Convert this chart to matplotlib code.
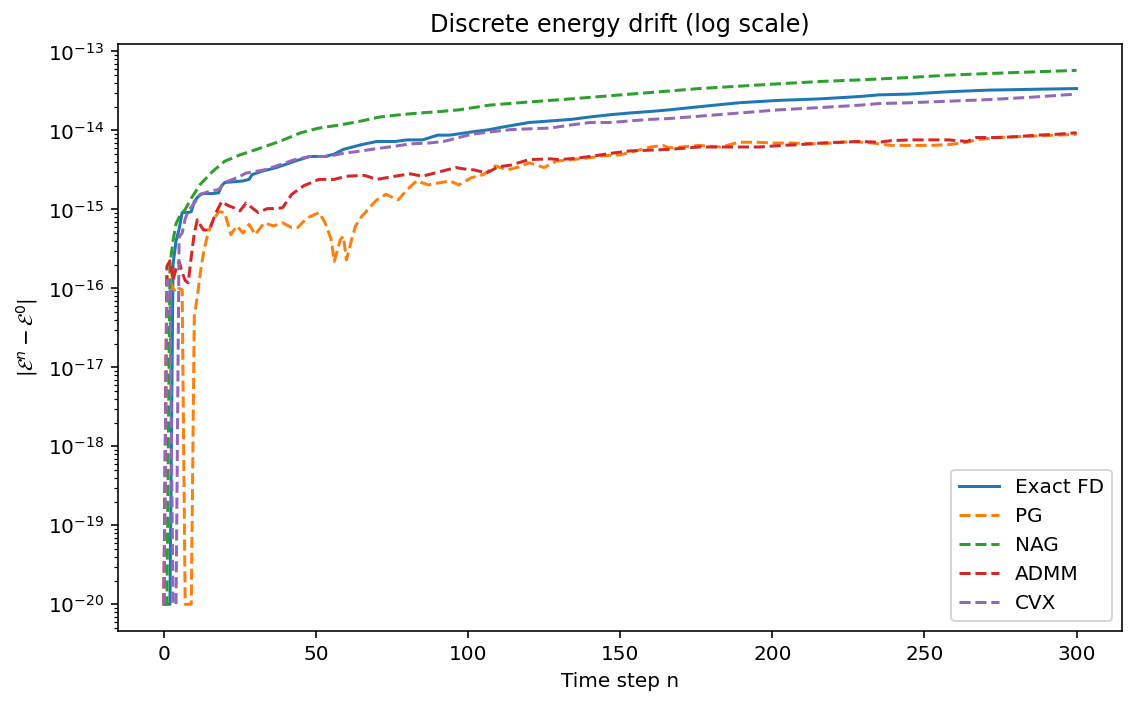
import numpy as np
import matplotlib
matplotlib.use('Agg')
from matplotlib import pyplot as plt

# values, stored as log10|E^n - E^0| (1e-20 = floor for zero drift)
fd_n = [0, 1, 2, 3, 4, 5, 6, 7, 8, 9, 10, 11, 12, 13, 16, 18, 19, 20, 23, 26, 28, 29, 32, 37, 43, 48,
        53, 56, 59, 65, 70, 76, 80, 85, 90, 94, 101, 107, 111, 120, 127, 134, 140, 147, 153, 160, 166,
        176, 189, 202, 216, 229, 235, 245, 258, 271, 285, 300]
fd_log = [-20, -20, -20, -15.7, -15.4, -15.25, -15.04, -15.04, -15.04, -15.03, -14.9, -14.85, -14.81,
          -14.80, -14.80, -14.79, -14.7, -14.66, -14.65, -14.64, -14.62, -14.56, -14.52, -14.47, -14.39,
          -14.33, -14.33, -14.30, -14.24, -14.18, -14.14, -14.14, -14.12, -14.12, -14.06, -14.06, -14.02,
          -13.99, -13.96, -13.90, -13.88, -13.86, -13.83, -13.80, -13.78, -13.76, -13.74, -13.70, -13.65,
          -13.62, -13.60, -13.57, -13.55, -13.54, -13.51, -13.49, -13.48, -13.47]

pg_n = [0, 1, 2, 3, 4, 5, 6, 7, 8, 9, 10, 11, 12, 13, 14, 15, 16, 18, 20, 22, 24, 26, 28, 30, 33, 36,
        39, 42, 44, 47, 51, 53, 55, 56, 58, 59, 60, 62, 63, 65, 68, 70, 73, 77, 80, 83, 87, 91, 94, 97,
        101, 105, 109, 113, 117, 120, 125, 129, 134, 139, 145, 150, 155, 160, 164, 166, 170, 176, 183,
        189, 195, 200, 207, 213, 220, 226, 233, 239, 245, 252, 258, 264, 267, 274, 280, 287, 293, 300]
pg_log = [-20, -15.85, -15.9, -16.0, -16.05, -16.0, -16.02, -20, -20, -20, -16.35, -16.1, -15.8, -15.55,
          -15.38, -15.25, -15.15, -15.03, -15.04, -15.32, -15.21, -15.30, -15.19, -15.32, -15.17, -15.21,
          -15.17, -15.23, -15.23, -15.11, -15.04, -15.17, -15.38, -15.66, -15.38, -15.34, -15.64, -15.34,
          -15.21, -15.09, -14.96, -14.88, -14.81, -14.88, -14.75, -14.64, -14.69, -14.66, -14.64, -14.69,
          -14.60, -14.56, -14.45, -14.50, -14.46, -14.41, -14.47, -14.39, -14.37, -14.35, -14.32, -14.31,
          -14.26, -14.21, -14.19, -14.22, -14.21, -14.19, -14.21, -14.15, -14.15, -14.16, -14.16, -14.17,
          -14.16, -14.14, -14.16, -14.19, -14.19, -14.19, -14.18, -14.15, -14.12, -14.09, -14.08, -14.07,
          -14.06, -14.05]

nag_n = [0, 1, 2, 3, 4, 5, 6, 7, 8, 9, 10, 12, 14, 16, 20, 25, 29, 32, 38, 45, 51, 58, 65, 71, 78, 84,
         91, 97, 107, 120, 134, 147, 160, 176, 189, 202, 216, 229, 245, 258, 271, 285, 300]
nag_log = [-20, -20, -15.7, -15.4, -15.18, -15.1, -15.05, -15.0, -14.93, -14.86, -14.8, -14.68, -14.6,
           -14.52, -14.39, -14.31, -14.26, -14.22, -14.14, -14.03, -13.97, -13.93, -13.88, -13.83, -13.80,
           -13.78, -13.76, -13.74, -13.68, -13.64, -13.60, -13.56, -13.52, -13.47, -13.44, -13.41, -13.38,
           -13.36, -13.33, -13.30, -13.28, -13.26, -13.24]

admm_n = [0, 1, 2, 3, 4, 5, 6, 7, 8, 9, 10, 11, 12, 13, 15, 17, 19, 21, 23, 25, 27, 29, 31, 34, 36, 39,
          42, 46, 51, 56, 60, 66, 70, 76, 81, 85, 91, 96, 99, 102, 106, 110, 114, 120, 127, 130, 136,
          140, 147, 153, 160, 166, 176, 183, 196, 203, 209, 216, 222, 229, 235, 239, 245, 252, 258, 264,
          267, 274, 280, 287, 293, 300]
admm_log = [-20, -15.72, -15.65, -15.9, -15.75, -15.66, -15.8, -15.9, -15.93, -15.6, -15.3, -15.13, -15.2,
            -15.26, -15.26, -15.05, -14.9, -14.95, -14.98, -15.02, -14.92, -14.98, -15.04, -14.99, -14.99,
            -14.98, -14.81, -14.70, -14.62, -14.62, -14.58, -14.57, -14.62, -14.58, -14.55, -14.58, -14.52,
            -14.47, -14.49, -14.50, -14.54, -14.46, -14.44, -14.37, -14.36, -14.37, -14.35, -14.33, -14.29,
            -14.26, -14.25, -14.24, -14.21, -14.21, -14.21, -14.19, -14.18, -14.16, -14.15, -14.14, -14.15,
            -14.13, -14.12, -14.12, -14.12, -14.14, -14.09, -14.09, -14.08, -14.06, -14.05, -14.03]

cvx_n = [0, 1, 2, 3, 4, 5, 6, 7, 8, 10, 12, 15, 18, 20, 24, 27, 30, 33, 37, 43, 48, 54, 59, 65, 70, 76,
         81, 87, 92, 97, 101, 107, 114, 120, 127, 134, 140, 147, 153, 160, 166, 176, 189, 202, 216, 229,
         235, 245, 258, 271, 285, 300]
cvx_log = [-20, -15.9, -15.95, -20, -20, -15.35, -15.3, -15.12, -15.02, -14.92, -14.81, -14.77, -14.75,
           -14.66, -14.60, -14.54, -14.52, -14.50, -14.45, -14.37, -14.33, -14.33, -14.29, -14.26, -14.23,
           -14.20, -14.17, -14.16, -14.14, -14.09, -14.05, -14.02, -13.99, -13.98, -13.97, -13.93, -13.90,
           -13.90, -13.88, -13.86, -13.85, -13.82, -13.78, -13.74, -13.71, -13.68, -13.66, -13.65, -13.63,
           -13.61, -13.58, -13.54]

series = [
    ('Exact FD', fd_n, fd_log, '-'),
    ('PG', pg_n, pg_log, '--'),
    ('NAG', nag_n, nag_log, '--'),
    ('ADMM', admm_n, admm_log, '--'),
    ('CVX', cvx_n, cvx_log, '--'),
]

# 1137 x 705 px
fig = plt.figure(figsize=(7.896, 4.896), dpi=144)
ax = fig.add_axes([0.104, 0.105, 0.883, 0.833])

for label, n, lg, ls in series:
    ax.semilogy(n, 10.0 ** np.array(lg), ls, label=label)

ax.set_title('Discrete energy drift (log scale)')
ax.set_xlabel('Time step n')
ax.set_ylabel(r'$|\mathcal{E}^n - \mathcal{E}^0|$')
ax.legend(loc='lower right')

fig.savefig('out.png', dpi=144)
